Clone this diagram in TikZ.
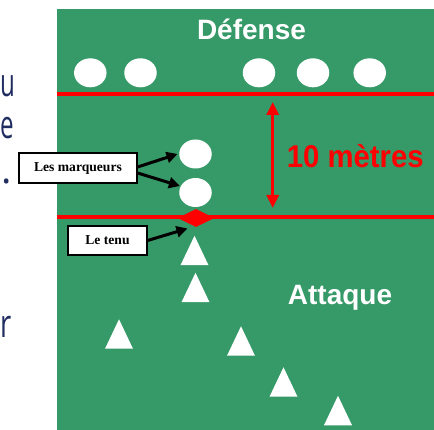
\documentclass[tikz,border=0pt]{standalone}
\usepackage{fontspec}
\usetikzlibrary{arrows.meta,shapes.geometric,calc}
\newfontfamily\sansbold{Liberation Sans}
\newfontfamily\serifbold{Liberation Serif}
\newfontfamily\slidefont{Open Sans}
\definecolor{fieldgreen}{RGB}{54,153,104}
\definecolor{slidenavy}{RGB}{32,45,96}
\begin{document}
\begin{tikzpicture}[x=1pt,y=-1pt,
  player/.style={ellipse, fill=white, minimum width=32.5pt, minimum height=29pt, inner sep=0pt},
  labelbox/.style={draw=black, line width=1.3pt, fill=white, inner sep=0pt,
    font=\serifbold\bfseries\fontsize{13.6}{15}\selectfont},
  pointer/.style={draw=black, line width=3pt, -{Triangle[length=11pt,width=11pt]}},
  redline/.style={red, line width=4pt},
  bigtext/.style={font=\sansbold\bfseries\fontsize{28}{30}\selectfont, text=white, inner sep=0pt, anchor=base},
  slidetext/.style={font=\slidefont\fontsize{39}{43}\selectfont, text=slidenavy, inner sep=0pt, anchor=base west},
]
\useasboundingbox (0,0) rectangle (434,430);
\clip (0,0) rectangle (434,430);

% slide text fragments on the left
\node[slidetext, xscale=0.62] (tu) at (0,96.7) {u};
\node[slidetext, xscale=0.62] (te) at (0,139) {e};
\node[slidetext] (tdot) at (1.5,184) {.};
\node[slidetext, xscale=0.7] (tr) at (0,338) {r};

% field
\fill[fieldgreen] (56.7,9) rectangle (434,430);

% lines
\draw[redline] (56.7,94.5) -- (434,94.5);
\draw[redline] (56.7,217.5) -- (434,217.5);
\node[diamond, fill=red, minimum width=37pt, minimum height=18pt, inner sep=0pt] (dia) at (196,218) {};

% defence
\node[bigtext] (def) at (251.5,40) {Défense};
\node[player] (d1) at (90.3,72.8) {};
\node[player] (d2) at (140.5,72.8) {};
\node[player] (d3) at (259,72.8) {};
\node[player] (d4) at (313,72.8) {};
\node[player] (d5) at (369.7,72.8) {};

% markers
\node[player] (m1) at (195.5,154) {};
\node[player] (m2) at (195.5,192.5) {};

% 10 metres
\coordinate (dimtop) at (272.7,102);
\coordinate (dimbot) at (272.7,208);
\draw[red, line width=3pt, {Triangle[length=13pt,width=12pt]}-{Triangle[length=13pt,width=12pt]}] (dimtop) -- (dimbot);
\node[font=\sansbold\bfseries\fontsize{31.5}{33}\selectfont, text=red, inner sep=0pt, anchor=base, xscale=0.93] (dix) at (355.3,167.7) {10 mètres};

% attack
\node[bigtext] (att) at (340,304.3) {Attaque};
\foreach \cx/\cy in {194.5/250.5, 195.5/287.5, 119/334, 241/341, 283.5/382, 338/410.5}
  \fill[white] (\cx-14,\cy+14.75) -- (\cx+14,\cy+14.75) -- (\cx,\cy-14.75) -- cycle;

% label boxes
\node[labelbox, minimum width=118pt, minimum height=30pt] (marq) at (78,168) {Les marqueurs};
\node[labelbox, minimum width=79pt, minimum height=29pt] (tenu) at (107.5,240.5) {Le tenu};
\coordinate (tenutip) at (187.5,228.5);

\draw[pointer] ([yshift=1pt]marq.east) -- ([xshift=-1.5pt]m1.west);
\draw[pointer] ([yshift=-5pt]marq.east) -- ([xshift=-1.5pt,yshift=-1pt]m2.152);
\draw[pointer] (tenu.east) -- (tenutip);
\end{tikzpicture}
\end{document}
